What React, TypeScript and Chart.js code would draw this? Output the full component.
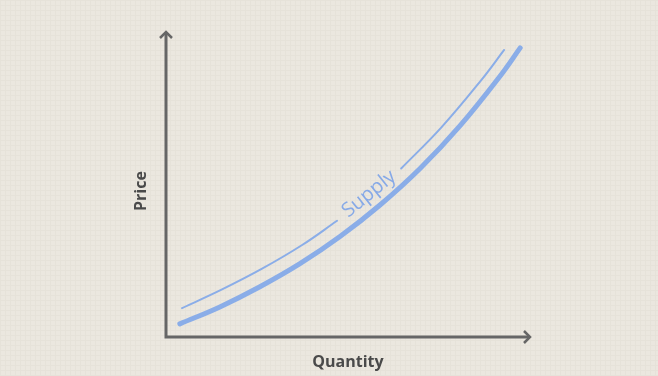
import React, { useEffect, useRef } from "react";
import { Chart, registerables } from "chart.js";

Chart.register(...registerables);

// Supply curve (thick)
const supplyX = [3.8, 14.8, 25.8, 36.8, 47.8, 58.8, 69.8, 80.8, 91.8, 97.3];
const supplyY = [4.5, 10.3, 17.2, 25.1, 34.4, 45.2, 57.7, 72.4, 89.4, 99.0];

// Shifted supply curve (thin), with a gap for the label (null)
const shiftX = [4.4, 15.4, 26.4, 37.4, 47.0, 55.0, 64.6, 75.6, 86.5, 92.9];
const shiftY: (number | null)[] = [9.9, 16.3, 23.4, 31.5, 39.8, null, 57.7, 71.7, 87.8, 98.3];

const curveLabel = "Supply";
const labelPos = { x: 55.8, y: 49.0 };
const xTitle = "Quantity";
const yTitle = "Price";

const BLUE = "#8aade8";
const AXIS = "#666666";
const BG = "#ebe7df";
const GRID = "#e6e2d9";

const bgPlugin = {
  id: "bgGrid",
  beforeDraw(chart: any) {
    const { ctx, width, height } = chart;
    ctx.save();
    ctx.fillStyle = BG;
    ctx.fillRect(0, 0, width, height);
    ctx.strokeStyle = GRID;
    ctx.lineWidth = 1;
    ctx.beginPath();
    for (let x = 0.5; x < width; x += 5) {
      ctx.moveTo(x, 0);
      ctx.lineTo(x, height);
    }
    for (let y = 0.5; y < height; y += 5) {
      ctx.moveTo(0, y);
      ctx.lineTo(width, y);
    }
    ctx.stroke();
    ctx.restore();
  },
};

const axesPlugin = {
  id: "arrowAxes",
  beforeDatasetsDraw(chart: any) {
    const { ctx, chartArea } = chart;
    const l = chartArea.left;
    const b = chartArea.bottom;
    const r = chartArea.right;
    const topY = chartArea.top - 13;
    ctx.save();
    ctx.strokeStyle = AXIS;
    ctx.lineWidth = 3;
    ctx.lineJoin = "miter";
    ctx.lineCap = "butt";
    ctx.beginPath();
    ctx.moveTo(l, topY + 1);
    ctx.lineTo(l, b);
    ctx.lineTo(r - 1, b);
    ctx.stroke();
    ctx.lineWidth = 2.5;
    ctx.beginPath();
    ctx.moveTo(l - 6, topY + 6);
    ctx.lineTo(l, topY);
    ctx.lineTo(l + 6, topY + 6);
    ctx.moveTo(r - 6, b - 6);
    ctx.lineTo(r, b);
    ctx.lineTo(r - 6, b + 6);
    ctx.stroke();
    ctx.restore();
  },
};

const labelPlugin = {
  id: "curveLabel",
  afterDatasetsDraw(chart: any) {
    const { ctx, scales } = chart;
    const px = scales.x.getPixelForValue(labelPos.x);
    const py = scales.y.getPixelForValue(labelPos.y);
    ctx.save();
    ctx.translate(px, py);
    ctx.rotate((-39 * Math.PI) / 180);
    ctx.fillStyle = "#86a9e7";
    ctx.font = "500 20px 'Open Sans'";
    ctx.textAlign = "center";
    ctx.textBaseline = "middle";
    ctx.fillText(curveLabel, 0, 0);
    ctx.restore();
  },
};

export default function App() {
  const ref = useRef<HTMLCanvasElement | null>(null);

  useEffect(() => {
    if (!ref.current) return;
    const chart = new Chart(ref.current, {
      type: "line",
      data: {
        datasets: [
          {
            label: "Supply",
            data: supplyX.map((x, i) => ({ x, y: supplyY[i] })),
            borderColor: BLUE,
            borderWidth: 5,
            borderCapStyle: "round",
            pointRadius: 0,
            tension: 0.4,
            fill: false,
            clip: false,
          },
          {
            label: "Supply shifted",
            data: shiftX.map((x, i) => ({ x, y: shiftY[i] })),
            borderColor: BLUE,
            borderWidth: 2,
            borderCapStyle: "round",
            pointRadius: 0,
            tension: 0.4,
            spanGaps: false,
            fill: false,
            clip: false,
          },
        ] as any,
      },
      options: {
        animation: false,
        responsive: false,
        events: [],
        layout: { padding: { left: 131.4, right: 128, top: 45, bottom: 3.8 } },
        plugins: { legend: { display: false }, tooltip: { enabled: false } },
        scales: {
          x: {
            type: "linear",
            min: 0,
            max: 100,
            grid: { display: false, drawTicks: false },
            border: { display: false },
            ticks: { display: false },
            title: {
              display: true,
              text: xTitle,
              color: "#4a4a4a",
              font: { family: "'Open Sans'", size: 16, weight: "bold" },
              padding: { top: 16, bottom: 0 },
            },
          },
          y: {
            type: "linear",
            min: 0,
            max: 100,
            grid: { display: false, drawTicks: false },
            border: { display: false },
            ticks: { display: false },
            title: {
              display: true,
              text: yTitle,
              color: "#4a4a4a",
              font: { family: "'Open Sans'", size: 16, weight: "bold" },
              padding: { top: 0, bottom: 15.4 },
            },
          },
        },
      },
      plugins: [bgPlugin, axesPlugin, labelPlugin],
    });
    return () => chart.destroy();
  }, []);

  return (
    <div style={{ position: "fixed", left: 0, top: 0, width: 658, height: 376 }}>
      <canvas ref={ref} width={658} height={376} style={{ display: "block" }} />
    </div>
  );
}
